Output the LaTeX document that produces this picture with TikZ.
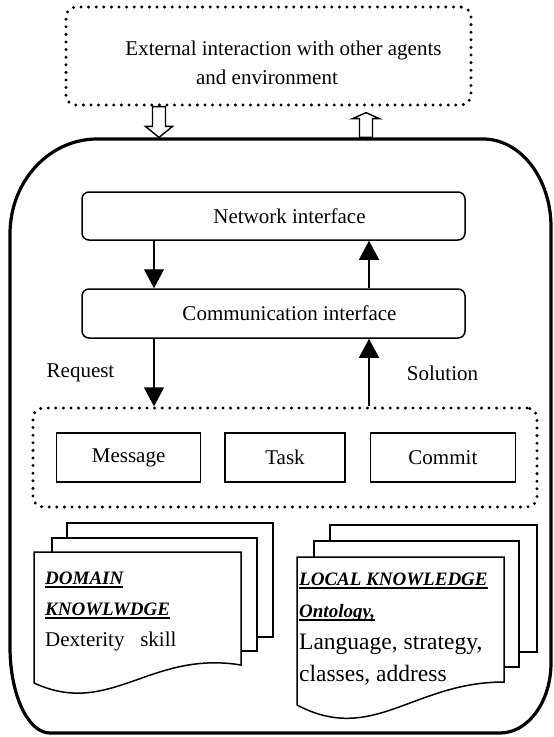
\documentclass[tikz,border=0pt]{standalone}
\usepackage{fontspec}
\setmainfont{Liberation Serif}
\usetikzlibrary{arrows.meta,positioning,calc}

% bold italic underlined heading inside a page
\newcommand{\kw}[1]{\setbox0\hbox{\fontsize{19}{32}\selectfont\bfseries\itshape #1}%
  \rlap{\rule[-3pt]{\wd0}{1.4pt}}\box0}
% hollow block arrow from #1 (tail) to #2 (tip), #3 = head length, signed
\newcommand{\blockarrow}[3]{%
  \draw[hollow] ($(#1)+(-6.5,0)$) -- ($(#2)+(-6.5,#3)$) -- ($(#2)+(-13.5,#3)$) -- (#2)
    -- ($(#2)+(13.5,#3)$) -- ($(#2)+(6.5,#3)$) -- ($(#1)+(6.5,0)$) -- cycle;}

\tikzstyle{dotbox} = [draw, line width=3.3pt, line cap=round,
dash pattern=on 0pt off 7.6pt, rounded corners=10pt]
\tikzstyle{agentline} = [line width=3.2pt, line join=round]
\tikzstyle{ifbox} = [draw, line width=1.5pt, rounded corners=7pt,
minimum width=383pt, font=\fontsize{21}{25}\selectfont]
\tikzstyle{cellbox} = [draw, line width=1.4pt, minimum height=49pt, inner sep=0pt,
font=\fontsize{21}{25}\selectfont]
\tikzstyle{flowarrow} = [line width=1.3pt, -{Triangle[length=19pt,width=20pt]}]
\tikzstyle{hollow} = [draw, fill=white, line width=1.4pt, line join=miter]
\tikzstyle{pagebox} = [draw, fill=white, line width=1.5pt]
\tikzstyle{plain} = [font=\fontsize{21}{29}\selectfont]
\tikzstyle{doctext} = [anchor=north west, inner sep=0pt, align=left]

\begin{document}
\begin{tikzpicture}[x=1pt,y=-1pt]
\useasboundingbox (0,0) rectangle (554,737);

% the agent: a rounded frame with uneven corners
\draw[agentline] (97,139) -- (483,139)
  arc[start angle=-90, end angle=0, x radius=68, y radius=88] -- (551,663)
  arc[start angle=0, end angle=90, x radius=51, y radius=70] -- (50,733)
  arc[start angle=90, end angle=180, x radius=40, y radius=86] -- (10,234)
  arc[start angle=180, end angle=270, x radius=87, y radius=95] -- cycle;
\coordinate (agenttop) at (0,137.4);

% the world outside it
\node[dotbox, minimum width=405pt, minimum height=98pt] (ext) at (268.5,56) {};
\node[plain, align=center] (exttext) at (267,63)
  {\hspace*{33pt}External interaction with other agents\\and environment};

\coordinate (inlane) at (159,0);
\coordinate (outlane) at (366,0);
\coordinate (uptip) at ($(ext.south -| outlane)+(0,6)$);
\blockarrow{ext.south -| inlane}{agenttop -| inlane}{-11}
\blockarrow{agenttop -| outlane}{uptip}{6}

% interfaces
\node[ifbox, minimum height=48pt] (netif) at (273.5,216) {\hspace*{32pt}Network interface};
\node[ifbox, minimum height=49pt] (commif) at (273.5,313.5) {\hspace*{32pt}Communication interface};

% message store
\node[dotbox, minimum width=504pt, minimum height=99pt] (store) at (285,457.5) {};
\node[cellbox, minimum width=120pt] (task) at (285,457.5) {Task};
\node[cellbox, minimum width=144pt, left=23pt of task] (message) {Message};
\node[cellbox, minimum width=145pt, right=24pt of task] (commit) {Commit};

\coordinate (lane1) at (154,0);
\coordinate (lane2) at (369,0);
\draw[flowarrow] (netif.south -| lane1) -- (commif.north -| lane1);
\draw[flowarrow] (commif.north -| lane2) -- (netif.south -| lane2);
\draw[flowarrow] (commif.south -| lane1) -- (store.north -| lane1);
\draw[flowarrow] (store.north -| lane2) -- (commif.south -| lane2);
\node[plain] (request) at (80.5,373) {Request};
\node[plain] (solution) at (442.5,373) {Solution};

% knowledge pages
\draw[pagebox] (67,523) rectangle (273,637);
\draw[pagebox] (52,538) rectangle (257,651);
\draw[pagebox] (34,552) -- (241,552) -- (241,665)
  .. controls (150,650) and (110,718) .. (34,683) -- cycle;
\node[doctext, font=\fontsize{21}{31}\selectfont] (domain) at (45,572)
  {\kw{DOMAIN}\\\kw{KNOWLWDGE}\\Dexterity\ \ \ skill};

\draw[pagebox] (330,525) rectangle (537,652);
\draw[pagebox] (314,541) rectangle (519,667);
\draw[pagebox] (297,557) -- (504,557) -- (504,682)
  .. controls (413,682) and (373,745) .. (297,705) -- cycle;
\node[doctext, font=\fontsize{23.5}{32}\selectfont] (local) at (299,573)
  {\kw{LOCAL KNOWLEDGE}\\\kw{Ontology,}\\Language, strategy,\\classes, address};
\end{tikzpicture}
\end{document}
